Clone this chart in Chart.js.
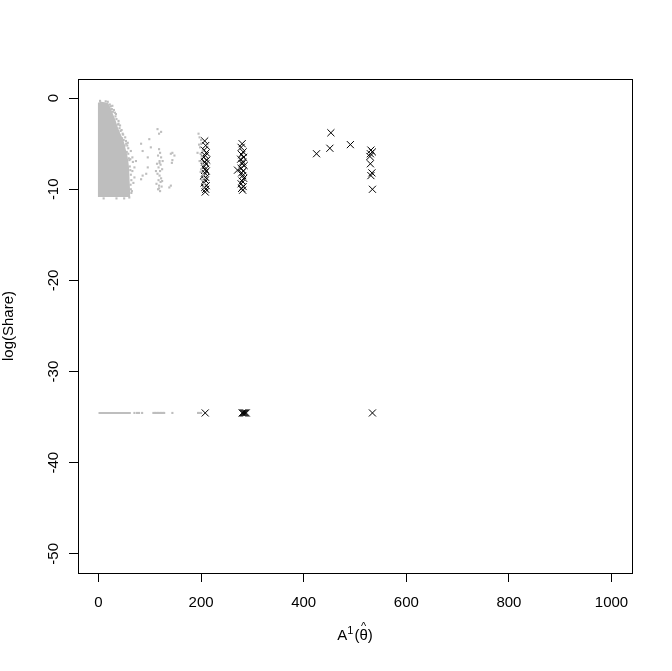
<!DOCTYPE html>
<html>
<head>
<meta charset="utf-8">
<script src="https://cdn.jsdelivr.net/npm/chart.js@4.4.0/dist/chart.umd.min.js"></script>
<style>
body { margin: 0; background: #fff; }
#wrap { width: 672px; height: 671px; }
</style>
</head>
<body>
<div id="wrap"><canvas id="chart" width="672" height="671"></canvas></div>
<script>
// axes
const xTicks = [0, 200, 400, 600, 800, 1000]
const yTicks = [0, -10, -20, -30, -40, -50]
const xRange = [-40, 1040]
const yRange = [-52.1, 2.1]
const xTitle = ['A', '1', '(', 'θ', ')']
const yTitle = 'log(Share)'

// dense grey cloud, top edge (filled down to the bottom of the cloud)
const cloudX = [-1.5, 5, 12, 19, 23, 28, 33, 37, 41, 46, 50, 53, 56, 58, 59.5, 60.5, 61, 61.5, 62]
const cloudY = [-0.5, -0.4, -0.45, -0.55, -1.0, -1.7, -2.4, -3.1, -3.7, -4.3, -4.9, -5.6, -6.2, -6.9, -7.6, -8.4, -9.2, -10.2, -10.8]
const cloudBottom = -10.85

// loose grey points
const greyX = [27, 30, 34, 39, 42, 47, 53.5, 56, 63, 66, 70, 70, 65, 63, 64, 67, 73,
  22, 24, 26, 28, 33, 35, 38, 41, 43, 46, 49, 51, 55, 58, 60, 61, 62, 63, 62.5, 64, 60, 50, 35, 10,
  3, 14, 18, 58, 62, 66, 68, 57, 52, 45, 39, 32, 48, 54, 59,
  83, 86, 99, 102, 96, 93, 83, 86, 96, 115, 122, 118, 141, 143, 144, 144, 138, 141, 148,
  118, 120, 116, 122, 119, 114, 121, 117, 124, 120, 115, 119, 122, 117, 121, 113, 118, 123, 116, 120, 125, 112, 124, 119, 118,
  195, 197, 200, 193, 198, 201, 197, 203, 200, 204, 202, 206, 199, 196, 203, 199, 201, 204, 205, 200]
const greyY = [-0.84, -1.3, -1.75, -2.5, -3.0, -3.9, -4.7, -5.2, -5.8, -6.5, -7.6, -8.7, -10.2, -10.0, -9.0, -7.0, -6.9,
  -0.7, -0.9, -1.2, -1.5, -2.0, -2.3, -2.9, -3.3, -3.6, -4.4, -4.6, -5.2, -5.9, -6.1, -6.8, -7.5, -7.9, -8.4, -9.5, -10.4, -10.9, -11.0, -11.0, -11.0,
  -0.3, -0.35, -0.4, -5.5, -6.7, -8.0, -9.3, -4.9, -4.3, -3.5, -2.8, -1.6, -4.0, -5.0, -6.6,
  -5.0, -5.8, -4.5, -5.4, -7.6, -8.3, -8.9, -8.5, -6.5, -3.4, -3.7, -3.9, -6.1, -7.1, -6.0, -6.8, -9.8, -9.6, -6.3,
  -5.6, -6.0, -6.3, -6.5, -6.9, -7.2, -7.3, -7.6, -7.8, -8.0, -8.3, -8.5, -8.8, -9.0, -9.2, -9.4, -9.6, -9.7, -10.0, -10.2, -6.9, -8.0, -9.1, -7.1, -9.9,
  -3.9, -4.3, -4.6, -6.0, -5.4, -6.4, -6.9, -7.3, -7.8, -8.4, -9.0, -9.4, -8.1, -5.1, -5.8, -6.1, -7.0, -9.8, -8.8, -5.0]

// zero shares plotted at log(1e-15)
const zeroLevel = -34.54
const zeroLineX = [0, 63]
const zeroDotsX = [70, 75, 79, 85, 107, 110, 113, 116, 119, 122, 125, 128, 144, 194, 197, 200]

// black crosses
const crossX = [207, 209, 206, 210, 208, 205, 211, 207, 209, 206, 208, 210, 207, 205, 209, 208, 206, 210, 207, 209, 208,
  280, 278, 282, 279, 283, 277, 281, 280, 284, 278, 282, 279, 281, 283, 280, 278, 282, 279, 281, 271,
  425, 453, 451, 491,
  531, 534, 530, 529, 530, 533, 531, 534]
const crossY = [-4.7, -5.2, -5.7, -6.0, -6.3, -6.5, -6.8, -7.0, -7.2, -7.5, -7.8, -8.0, -8.2, -8.5, -8.7, -9.0, -9.3, -9.6, -9.8, -10.0, -10.3,
  -5.0, -5.4, -5.9, -6.2, -6.5, -6.7, -7.0, -7.2, -7.4, -7.7, -8.0, -8.2, -8.5, -8.8, -9.1, -9.4, -9.7, -9.9, -10.1, -7.9,
  -6.1, -3.8, -5.5, -5.1,
  -5.7, -5.9, -6.1, -6.4, -7.2, -8.2, -8.5, -10.0]
const zeroCrossX = [208, 280, 282, 284, 286, 288, 534]

const grey = '#bebebe'
const font = '"Liberation Sans", Arial, sans-serif'

const pts = (xs, ys) => xs.map((x, i) => ({ x, y: ys[i] }))
const level = (xs, v) => xs.map(x => ({ x, y: v }))

const frame = {
  id: 'frame',
  afterDraw(chart) {
    const { ctx, chartArea: a, scales: { x, y } } = chart
    ctx.save()
    ctx.strokeStyle = '#000'
    ctx.lineWidth = 1
    ctx.strokeRect(Math.round(a.left) + 0.5, Math.round(a.top) + 0.5,
      Math.round(a.right - a.left), Math.round(a.bottom - a.top))

    ctx.fillStyle = '#000'
    ctx.font = '15px ' + font
    ctx.textAlign = 'center'
    ctx.textBaseline = 'alphabetic'
    xTicks.forEach(v => ctx.fillText(String(v), x.getPixelForValue(v), 607))
    yTicks.forEach(v => {
      ctx.save()
      ctx.translate(58, y.getPixelForValue(v))
      ctx.rotate(-Math.PI / 2)
      ctx.fillText(String(v), 0, 0)
      ctx.restore()
    })

    // y title
    ctx.save()
    ctx.translate(13, (a.top + a.bottom) / 2)
    ctx.rotate(-Math.PI / 2)
    ctx.fillText(yTitle, 0, 0)
    ctx.restore()

    // x title: A^1(theta-hat)
    const big = '15px ' + font, small = '11px ' + font
    ctx.textAlign = 'left'
    ctx.font = big
    const wA = ctx.measureText(xTitle[0]).width
    const wP = ctx.measureText(xTitle[2]).width
    const wT = ctx.measureText(xTitle[3]).width
    const wQ = ctx.measureText(xTitle[4]).width
    ctx.font = small
    const w1 = ctx.measureText(xTitle[1]).width
    const total = wA + w1 + 1 + wP + wT + wQ
    let cx = (a.left + a.right) / 2 - total / 2
    const base = 640
    ctx.font = big
    ctx.fillText(xTitle[0], cx, base); cx += wA
    ctx.font = small
    ctx.fillText(xTitle[1], cx, base - 6); cx += w1 + 1
    ctx.font = big
    ctx.fillText(xTitle[2], cx, base); cx += wP
    ctx.fillText(xTitle[3], cx, base)
    ctx.font = small
    ctx.textAlign = 'center'
    ctx.fillText('^', cx + wT / 2, base - 10)
    ctx.textAlign = 'left'
    ctx.font = big
    cx += wT
    ctx.fillText(xTitle[4], cx, base)
    ctx.restore()
  }
}

new Chart(document.getElementById('chart'), {
  type: 'scatter',
  data: {
    datasets: [
      {
        data: pts(cloudX, cloudY),
        showLine: true,
        borderWidth: 0,
        borderColor: grey,
        backgroundColor: grey,
        pointRadius: 0,
        tension: 0,
        fill: { value: cloudBottom }
      },
      {
        data: pts(greyX, greyY),
        pointStyle: 'rect',
        pointRadius: 1.5,
        borderWidth: 0,
        backgroundColor: grey
      },
      {
        data: level(zeroLineX, zeroLevel),
        showLine: true,
        borderWidth: 2,
        borderColor: grey,
        pointRadius: 0
      },
      {
        data: level(zeroDotsX, zeroLevel),
        pointStyle: 'rect',
        pointRadius: 1.5,
        borderWidth: 0,
        backgroundColor: grey
      },
      {
        data: pts(crossX, crossY).concat(level(zeroCrossX, zeroLevel)),
        pointStyle: 'crossRot',
        pointRadius: 5,
        borderWidth: 1,
        borderColor: '#000',
        backgroundColor: '#000'
      }
    ]
  },
  options: {
    responsive: false,
    animation: false,
    devicePixelRatio: 1,
    layout: { padding: { top: 79, right: 40, left: 0, bottom: 0 } },
    plugins: { legend: { display: false }, tooltip: { enabled: false } },
    scales: {
      x: {
        type: 'linear',
        min: xRange[0],
        max: xRange[1],
        afterBuildTicks: s => { s.ticks = xTicks.map(v => ({ value: v })) },
        afterFit: s => { s.height = 98 },
        ticks: { display: false },
        grid: { drawOnChartArea: false, drawTicks: true, tickLength: 9, color: '#000', lineWidth: 1 },
        border: { display: false }
      },
      y: {
        type: 'linear',
        min: yRange[0],
        max: yRange[1],
        afterBuildTicks: s => { s.ticks = yTicks.map(v => ({ value: v })) },
        afterFit: s => { s.width = 78 },
        ticks: { display: false },
        grid: { drawOnChartArea: false, drawTicks: true, tickLength: 9, color: '#000', lineWidth: 1 },
        border: { display: false }
      }
    }
  },
  plugins: [frame]
})
</script>
</body>
</html>
